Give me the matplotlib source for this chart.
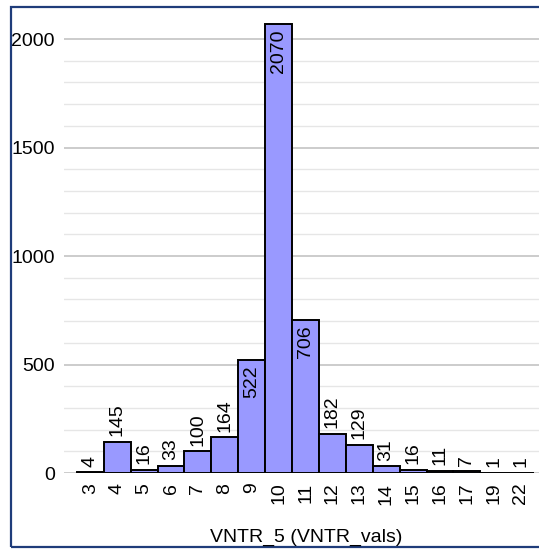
import matplotlib
matplotlib.use('Agg')
import matplotlib.pyplot as plt
from matplotlib.patches import Rectangle
from matplotlib.ticker import MultipleLocator
import numpy as np

plt.rcParams['font.family'] = ['Liberation Sans', 'DejaVu Sans']

# data
vntr_vals = ['3', '4', '5', '6', '7', '8', '9', '10', '11',
             '12', '13', '14', '15', '16', '17', '19', '22']
counts = [4, 145, 16, 33, 100, 164, 522, 2070, 706,
          182, 129, 31, 16, 11, 7, 1, 1]
x_label = 'VNTR_5 (VNTR_vals)'

fs = 14

fig = plt.figure(figsize=(5.39, 5.50), dpi=100)
W, H = 539, 550
# axes spans past the right edge, like the cropped original
ax = fig.add_axes([64 / W, 1 - 473 / H, 483 / W, 452.4 / H])

pos = np.arange(len(vntr_vals))
ax.bar(pos, counts, width=1.0, color='#9999ff', edgecolor='black',
       linewidth=1.4, zorder=3)

for p, v in zip(pos, counts):
    if v > 300:
        ax.annotate(str(v), (p, v), xytext=(0, -4), textcoords='offset points',
                    rotation=90, ha='center', va='top', fontsize=fs, zorder=4)
    else:
        ax.annotate(str(v), (p, v), xytext=(0, 4), textcoords='offset points',
                    rotation=90, ha='center', va='bottom', fontsize=fs, zorder=4)

ax.set_xlim(-0.98, len(vntr_vals) - 0.02)
ax.set_ylim(0, 2085)
ax.set_xticks(pos)
ax.set_xticklabels(vntr_vals, rotation=90, fontsize=fs)
ax.yaxis.set_major_locator(MultipleLocator(500))
ax.yaxis.set_minor_locator(MultipleLocator(100))
ax.tick_params(axis='both', which='both', length=0, labelsize=fs)
ax.tick_params(axis='x', pad=7)
ax.tick_params(axis='y', pad=6.5)
ax.grid(axis='y', which='major', color='#c8c8c8', linewidth=1.3, zorder=0)
ax.grid(axis='y', which='minor', color='#e6e6e6', linewidth=1.0, zorder=0)
ax.set_axisbelow(True)
for s in ax.spines.values():
    s.set_visible(False)

fig.text(306 / W, 1 - 537 / H, x_label, ha='center', va='center', fontsize=fs)

# navy frame round the chart
fig.patches.append(Rectangle((11 / W, 1 - 547 / H), 1.2, 540 / H,
                             transform=fig.transFigure, fill=False,
                             edgecolor='#1f3c7a', linewidth=1.6))

fig.savefig('out.png', dpi=100)
